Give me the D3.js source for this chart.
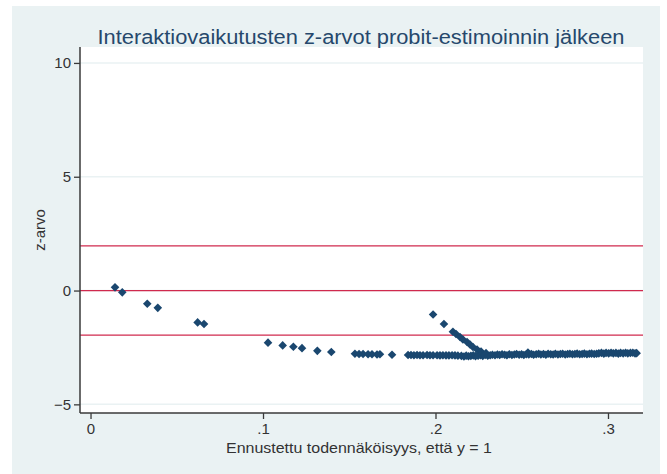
<!DOCTYPE html>
<html>
<head>
<meta charset="utf-8">
<script src="https://cdn.jsdelivr.net/npm/d3@7"></script>
<style>
  body { margin: 0; background: #fff; }
  text { font-family: "Liberation Sans", Arial, sans-serif; }
</style>
</head>
<body>
<div id="chart"></div>
<script>
var W = 667, H = 474;
var plot = {left: 80, right: 643, top: 47, bottom: 413};

var titleText = "Interaktiovaikutusten z-arvot probit-estimoinnin jälkeen";
var xTitle = "Ennustettu todennäköisyys, että y = 1";
var yTitle = "z-arvo";
var xTicks = [0, 0.1, 0.2, 0.3];
var xTickLabels = ["0", ".1", ".2", ".3"];
var yTicks = [-5, 0, 5, 10];
var refLines = [-1.96, 0, 1.96];

// scattered points on the left / lower chain
var probA = [0.0142,0.0184,0.0329,0.0390,0.0621,0.0658,0.1029,0.1114,0.1176,0.1226,0.1315,0.1396,
  0.1533,0.1557,0.1580,0.1609,0.1632,0.1661,0.1678,0.1748,
  0.1841,0.1858,0.1875,0.1893,0.1910,0.1928,0.1951,0.1968,0.1986,0.2009,0.2026,0.2043,0.2061,0.2078,0.2096,0.2113,0.2130];
var zA = [0.14,-0.08,-0.58,-0.76,-1.40,-1.47,-2.29,-2.41,-2.47,-2.53,-2.65,-2.70,
  -2.78,-2.79,-2.79,-2.80,-2.80,-2.81,-2.80,-2.82,
  -2.83,-2.83,-2.84,-2.83,-2.84,-2.84,-2.83,-2.84,-2.84,-2.84,-2.85,-2.84,-2.85,-2.85,-2.84,-2.85,-2.86];

// rising branch
var probB = [0.1986,0.2049,0.2101,0.2119,0.2142,0.2159,0.2183,0.2200,0.2217,0.2241,0.2264,0.2293];
var zB = [-1.05,-1.47,-1.81,-1.91,-2.04,-2.15,-2.26,-2.37,-2.48,-2.59,-2.68,-2.75];

// dense band
var probC = [0.2150,0.2165,0.2178,0.2191,0.2205,0.2219,0.2232,0.2247,0.2261,0.2274,0.2288,0.2303,0.2317,0.2330,
  0.2345,0.2359,0.2372,0.2386,0.2401,0.2414,0.2428,0.2443,0.2457,0.2470,0.2485,0.2499,0.2512,0.2527,0.2536,0.2541,
  0.2556,0.2569,0.2584,0.2598,0.2611,0.2626,0.2640,0.2653,0.2668,0.2682,0.2695,0.2710,0.2724,0.2737,0.2752,0.2766,
  0.2779,0.2794,0.2808,0.2821,0.2836,0.2850,0.2863,0.2878,0.2892,0.2905,0.2920,0.2934,0.2947,0.2962,0.2976,0.2989,
  0.3004,0.3018,0.3031,0.3046,0.3060,0.3073,0.3088,0.3102,0.3115,0.3130,0.3144,0.3157,0.3166];
var zC = [-2.87,-2.90,-2.86,-2.89,-2.87,-2.85,-2.88,-2.86,-2.84,-2.87,-2.83,-2.86,-2.84,-2.82,
  -2.84,-2.81,-2.83,-2.80,-2.82,-2.84,-2.80,-2.83,-2.81,-2.79,-2.82,-2.80,-2.83,-2.80,-2.72,-2.81,
  -2.79,-2.82,-2.80,-2.78,-2.81,-2.79,-2.82,-2.78,-2.80,-2.81,-2.78,-2.81,-2.79,-2.78,-2.81,-2.79,
  -2.78,-2.80,-2.79,-2.77,-2.80,-2.79,-2.77,-2.80,-2.78,-2.77,-2.79,-2.78,-2.76,-2.74,-2.77,-2.74,
  -2.76,-2.73,-2.76,-2.74,-2.77,-2.74,-2.76,-2.73,-2.76,-2.74,-2.73,-2.76,-2.75];

var points = [];
[[probA, zA], [probB, zB], [probC, zC]].forEach(function(s){
  for (var i = 0; i < s[0].length; i++) points.push({p: s[0][i], z: s[1][i]});
});

var svg = d3.select("#chart").append("svg")
  .attr("width", W).attr("height", H);

svg.append("rect").attr("width", W).attr("height", H).attr("fill", "#fff");
svg.append("rect").attr("x", 12).attr("y", 6).attr("width", 648).attr("height", 468).attr("fill", "#eaf2f3");
svg.append("rect").attr("x", plot.left).attr("y", plot.top)
  .attr("width", plot.right - plot.left).attr("height", plot.bottom - plot.top).attr("fill", "#fff");

var x = d3.scaleLinear().domain([-0.0061, 0.3203]).range([plot.left, plot.right]);
var y = d3.scaleLinear().domain([-5.38, 10.70]).range([plot.bottom, plot.top]);

// light gridlines
svg.selectAll(".grid").data(yTicks).join("line")
  .attr("x1", plot.left).attr("x2", plot.right)
  .attr("y1", function(d){ return y(d); }).attr("y2", function(d){ return y(d); })
  .attr("stroke", "#eaf2f3").attr("stroke-width", 1.5);

// reference lines
svg.selectAll(".ref").data(refLines).join("line")
  .attr("x1", plot.left).attr("x2", plot.right)
  .attr("y1", function(d){ return y(d); }).attr("y2", function(d){ return y(d); })
  .attr("stroke", "#d02a4e").attr("stroke-width", 1.3);

// diamonds
var r = 4.3;
svg.append("g").selectAll("path").data(points).join("path")
  .attr("transform", function(d){ return "translate(" + x(d.p) + "," + y(d.z) + ")"; })
  .attr("d", "M0," + (-r) + "L" + r + ",0L0," + r + "L" + (-r) + ",0Z")
  .attr("fill", "#1a476f");

// axes
var yAxis = svg.append("g").attr("transform", "translate(" + plot.left + ",0)")
  .call(d3.axisLeft(y).tickValues(yTicks).tickSize(6).tickSizeOuter(0).tickPadding(3));
var xAxis = svg.append("g").attr("transform", "translate(0," + plot.bottom + ")")
  .call(d3.axisBottom(x).tickValues(xTicks).tickSize(6).tickSizeOuter(0).tickPadding(4)
    .tickFormat(function(d, i){ return xTickLabels[i]; }));

[yAxis, xAxis].forEach(function(a){
  a.select(".domain").attr("stroke", "#3a3a3a").attr("stroke-width", 1.5);
  a.selectAll(".tick line").attr("stroke", "#3a3a3a").attr("stroke-width", 1.3);
  a.selectAll(".tick text").attr("fill", "#333").style("font-size", "15px")
    .style("font-family", "'Liberation Sans', Arial, sans-serif");
});
yAxis.select(".domain").attr("d", "M0," + plot.bottom + "V" + plot.top);
xAxis.select(".domain").attr("d", "M" + plot.left + ",0H" + plot.right);

// titles
svg.append("text").attr("x", 361).attr("y", 44).attr("text-anchor", "middle")
  .attr("fill", "#26486c").style("font-size", "20px")
  .attr("textLength", 527).attr("lengthAdjust", "spacingAndGlyphs").text(titleText);
svg.append("text").attr("x", 359).attr("y", 453).attr("text-anchor", "middle")
  .attr("fill", "#333").style("font-size", "15px")
  .attr("textLength", 266).attr("lengthAdjust", "spacingAndGlyphs").text(xTitle);
svg.append("text").attr("transform", "translate(45,230) rotate(-90)").attr("text-anchor", "middle")
  .attr("fill", "#333").style("font-size", "15px").text(yTitle);
</script>
</body>
</html>
